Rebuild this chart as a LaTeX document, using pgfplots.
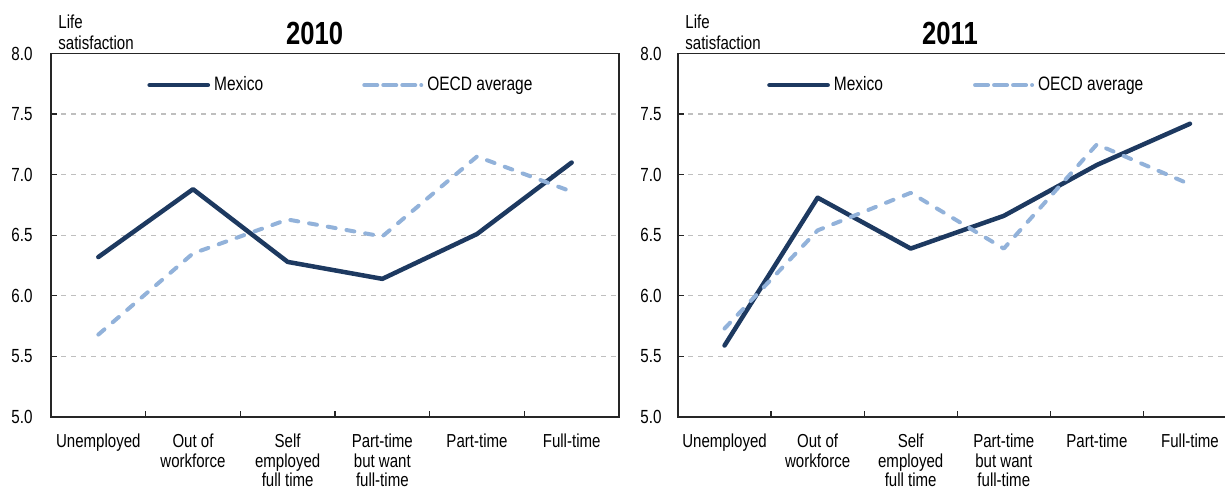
\documentclass[border=0pt]{standalone}
\usepackage{fontspec}
\setmainfont{Liberation Sans}[FakeStretch=0.8]
\usepackage{pgfplots}
\pgfplotsset{compat=1.18}
\definecolor{mex}{RGB}{29,57,96}
\definecolor{oecd}{RGB}{146,178,218}
\definecolor{gridgray}{RGB}{191,191,191}

\pgfplotsset{
 mexs/.style={mex, line width=2.25pt, line cap=round, line join=round},
 oecds/.style={oecd, line width=2pt, line cap=round, line join=round, dash pattern=on 4pt off 5.5pt},
 legM/.style={legend image code/.code={\draw[##1] (1.1pt,0pt) -- (30.2pt,0pt);}},
 legO/.style={legend image code/.code={\path (0pt,0pt) -- (28.5pt,0pt); \draw[##1, dash pattern=on 5.5pt off 4pt] (1pt,0pt) -- (25.5pt,0pt);}},
 panel/.style={
  scale only axis, height=181.75pt, anchor=south west,
  xmin=-0.5, xmax=5.5, ymin=5, ymax=8,
  xtick={0,1,2,3,4,5}, minor xtick={0.5,1.5,2.5,3.5,4.5},
  xticklabels={Unemployed,{Out of\\workforce},{Self\\employed\\full time},{Part-time\\but want\\full-time},Part-time,Full-time},
  ytick={5,5.5,6,6.5,7,7.5,8},
  tick pos=left, tick align=inside,
  major tick length=2.8pt, minor tick length=2.8pt,
  major x tick style={draw=none},
  minor x tick style={black!85, line width=0.6pt},
  ytick style={black!85, line width=0.6pt},
  ymajorgrids, grid style={gridgray, line width=0.6pt, dash pattern=on 2.5pt off 2.5pt},
  axis line style={black!85, line width=0.8pt},
  /pgf/number format/assume math mode=true,
  yticklabel style={/pgf/number format/fixed, /pgf/number format/fixed zerofill, /pgf/number format/precision=1, font=\fontsize{9.5}{10}\selectfont, inner sep=0pt, anchor=east},
  xticklabel style={font=\fontsize{9.4}{9.8}\selectfont, align=center, anchor=north, inner sep=0pt, yshift=-8.3pt},
  every axis title/.style={anchor=base, inner sep=0pt, yshift=4.25pt, font=\fontsize{16}{18}\selectfont\bfseries},
  every axis y label/.style={at={(rel axis cs:0,1)}, anchor=south west, align=left, inner sep=0pt, font=\fontsize{9.4}{10.35}\selectfont, xshift=3.5pt, yshift=1.75pt},
  ylabel={Life\\satisfaction},
  legend columns=2,
  legend style={draw=none, fill=none, inner sep=0pt, font=\fontsize{9.7}{10}\selectfont, anchor=west, cells={anchor=west}},
 }
}

\begin{document}
\begin{tikzpicture}
\useasboundingbox (0,0) rectangle (612.5pt,245pt);
\begin{axis}[panel, at={(25.5pt,36.5pt)}, width=284pt,
  title={2010}, title style={at={(0.464,1)}},
  yticklabel style={xshift=-9pt},
  legend style={at={(0.169,0.913)}, /tikz/every even column/.append style={column sep=47.5pt}}]
\addplot[mexs, legM] coordinates {(0,6.32) (1,6.88) (2,6.28) (3,6.14) (4,6.51) (5,7.10)};
\addlegendentry{Mexico}
\addplot[oecds, legO] coordinates {(0,5.68) (1,6.35) (2,6.63) (3,6.49) (4,7.15) (5,6.86)};
\addlegendentry{OECD average}
\end{axis}
\begin{axis}[panel, at={(339pt,36.5pt)}, width=279.25pt,
  title={2011}, title style={at={(0.487,1)}},
  yticklabel style={xshift=-8pt},
  legend style={at={(0.159,0.913)}, /tikz/every even column/.append style={column sep=43pt}}]
\addplot[mexs, legM] coordinates {(0,5.59) (1,6.81) (2,6.39) (3,6.66) (4,7.08) (5,7.42)};
\addlegendentry{Mexico}
\addplot[oecds, legO] coordinates {(0,5.73) (1,6.54) (2,6.85) (3,6.39) (4,7.25) (5,6.92)};
\addlegendentry{OECD average}
\end{axis}
\end{tikzpicture}
\end{document}
